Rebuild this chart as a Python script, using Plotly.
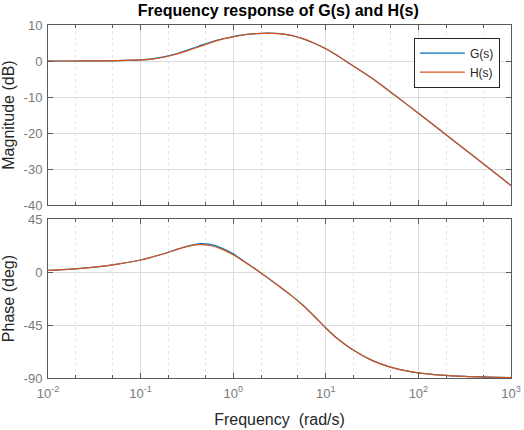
import plotly.graph_objects as go
from plotly.subplots import make_subplots

# ---- data ----
freq = [0.01, 0.0178, 0.0316, 0.0562, 0.1, 0.133, 0.178, 0.237, 0.316, 0.422, 0.562, 0.75,
        1.0, 1.33, 1.78, 2.37, 3.16, 4.22, 5.62, 7.5, 10, 13.3, 17.8, 31.6, 56.2,
        100, 178, 316, 562, 1000]

mag_G = [0.0, 0.0, 0.03, 0.1, 0.3, 0.6, 1.15, 1.95, 3.0, 4.1, 5.2, 6.1,
         6.8, 7.3, 7.6, 7.75, 7.6, 7.1, 6.2, 4.95, 3.4, 1.5, -0.6, -4.8, -9.6,
         -14.5, -19.5, -24.5, -29.5, -34.6]
mag_H = [0.0, 0.0, 0.03, 0.1, 0.3, 0.55, 1.05, 1.8, 2.8, 3.9, 5.0, 6.0,
         6.7, 7.3, 7.6, 7.75, 7.6, 7.1, 6.2, 4.95, 3.4, 1.5, -0.6, -4.8, -9.6,
         -14.5, -19.5, -24.5, -29.5, -34.6]

phase_G = [1.4, 2.5, 4.2, 6.8, 10.3, 12.8, 15.6, 18.9, 22.0, 24.1, 23.5, 20.4,
           15.5, 8.8, 2.0, -5.0, -12.3, -19.8, -28.0, -37.5, -47.5, -56.5, -63.8, -75.0, -81.8,
           -85.6, -87.5, -88.6, -89.2, -89.6]
phase_H = [1.4, 2.5, 4.2, 6.8, 10.3, 12.8, 15.6, 18.8, 21.7, 23.4, 22.6, 19.5,
           14.8, 8.5, 2.1, -4.9, -12.3, -19.8, -28.0, -37.5, -47.5, -56.5, -63.8, -75.0, -81.8,
           -85.6, -87.5, -88.6, -89.2, -89.6]

x_exponents = [-2, -1, 0, 1, 2, 3]
mag_ticks = [10, 0, -10, -20, -30, -40]
phase_ticks = [45, 0, -45, -90]

names = ["G(s)", "H(s)"]
colors = ["#0072BD", "#D95319"]

FONT = "Liberation Sans, Arial, Helvetica, sans-serif"
TICKC = "#7a7a7a"
AXC = "#5a5a5a"

fig = make_subplots(rows=2, cols=1, shared_xaxes=False, vertical_spacing=0.04)

for nm, c, m, p in zip(names, colors, [mag_G, mag_H], [phase_G, phase_H]):
    fig.add_trace(go.Scatter(x=freq, y=m, mode="lines", name=nm,
                             line=dict(color=c, width=1.2, shape="spline", smoothing=0.8),
                             legendgroup=nm), row=1, col=1)
    fig.add_trace(go.Scatter(x=freq, y=p, mode="lines", name=nm,
                             line=dict(color=c, width=1.2, shape="spline", smoothing=0.8),
                             legendgroup=nm, showlegend=False), row=2, col=1)

tickvals = [10 ** e for e in x_exponents]
ticktext = ["10<sup>%s</sup>" % ("-" + str(-e) if e < 0 else str(e)) for e in x_exponents]

common_x = dict(type="log", range=[-2, 3], showline=True, linecolor=AXC, linewidth=1,
                mirror="ticks", ticks="inside", ticklen=5, tickcolor=AXC,
                showgrid=True, gridcolor="#dcdcdc", gridwidth=1,
                tickmode="array", tickvals=tickvals, ticktext=ticktext,
                zeroline=False, ticklabelstandoff=3,
                minor=dict(ticks="inside", ticklen=3, tickcolor=AXC, showgrid=True,
                           gridcolor="#e6e6e6", griddash="dot", gridwidth=1),
                tickfont=dict(family=FONT, size=13, color=TICKC))

fig.update_xaxes(**common_x)
fig.update_xaxes(showticklabels=False, row=1, col=1)
fig.update_xaxes(title=dict(text="Frequency\u00a0 (rad/s)", font=dict(family=FONT, size=16, color="#262626"),
                            standoff=14), row=2, col=1)

common_y = dict(showline=True, linecolor=AXC, linewidth=1, mirror="ticks",
                ticks="inside", ticklen=5, tickcolor=AXC, showgrid=True,
                gridcolor="#dcdcdc", gridwidth=1, zeroline=False, ticklabelstandoff=2,
                tickfont=dict(family=FONT, size=13, color=TICKC))
fig.update_yaxes(**common_y)
fig.update_yaxes(range=[-40, 10], tickmode="array", tickvals=mag_ticks,
                 ticktext=[str(v) for v in mag_ticks],
                 title=dict(text="Magnitude (dB)", font=dict(family=FONT, size=16, color="#262626"),
                            standoff=4), row=1, col=1)
fig.update_yaxes(range=[-90, 45], tickmode="array", tickvals=phase_ticks,
                 ticktext=[str(v) for v in phase_ticks],
                 title=dict(text="Phase (deg)", font=dict(family=FONT, size=16, color="#262626"),
                            standoff=4), row=2, col=1)

fig.update_layout(
    width=524, height=430,
    margin=dict(l=48, r=13, t=25, b=52, autoexpand=False),
    paper_bgcolor="white", plot_bgcolor="white",
    font=dict(family=FONT, color="#262626"),
    title=dict(text="<b>Frequency response of G(s) and H(s)</b>", x=0.531, xanchor="center",
               y=0.976, yanchor="middle", font=dict(family=FONT, size=16, color="#000000")),
    showlegend=True,
    legend=dict(x=0.976, y=0.964, xanchor="right", yanchor="top",
                bgcolor="white", bordercolor="#262626", borderwidth=1,
                font=dict(family=FONT, size=12, color="#262626"),
                itemwidth=45, tracegroupgap=0),
)
fig.update_layout(yaxis=dict(domain=[0.490, 1.0]), yaxis2=dict(domain=[0.0, 0.450]))

fig.write_html("out.html")
